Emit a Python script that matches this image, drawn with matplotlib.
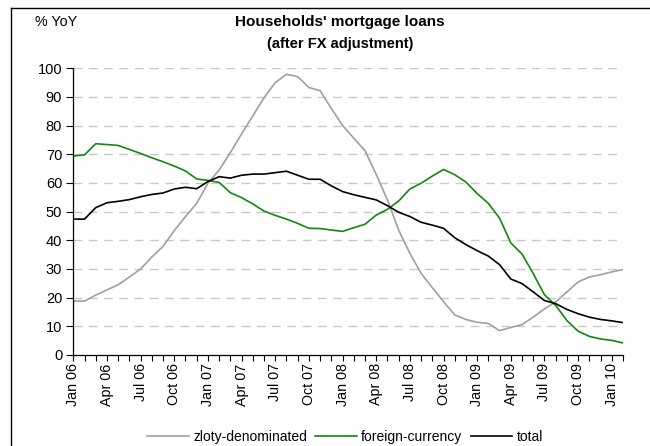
import matplotlib
matplotlib.use("Agg")
import matplotlib.pyplot as plt
from matplotlib.lines import Line2D
import numpy as np

plt.rcParams['font.family'] = ['Liberation Sans', 'DejaVu Sans']

months = ["Jan 06","Feb 06","Mar 06","Apr 06","May 06","Jun 06","Jul 06","Aug 06","Sep 06","Oct 06","Nov 06","Dec 06",
          "Jan 07","Feb 07","Mar 07","Apr 07","May 07","Jun 07","Jul 07","Aug 07","Sep 07","Oct 07","Nov 07","Dec 07",
          "Jan 08","Feb 08","Mar 08","Apr 08","May 08","Jun 08","Jul 08","Aug 08","Sep 08","Oct 08","Nov 08","Dec 08",
          "Jan 09","Feb 09","Mar 09","Apr 09","May 09","Jun 09","Jul 09","Aug 09","Sep 09","Oct 09","Nov 09","Dec 09",
          "Jan 10","Feb 10"]

zloty = [18.8,18.8,20.9,22.7,24.5,27.2,30.0,34.2,37.9,43.4,48.3,52.9,
         59.9,64.5,70.6,77.1,83.4,89.7,95.0,97.9,97.1,93.3,92.2,86.0,
         80.1,75.6,71.3,63.0,54.1,43.6,35.5,28.5,23.5,18.6,14.0,12.4,
         11.4,11.0,8.5,9.6,10.6,13.2,16.1,18.5,22.0,25.5,27.2,28.0,
         29.0,29.8]

foreign = [69.4,69.8,73.7,73.4,73.1,71.7,70.3,68.8,67.4,65.9,64.2,61.4,
           60.9,60.2,56.6,54.9,52.7,50.2,48.7,47.4,45.9,44.2,44.1,43.6,
           43.1,44.4,45.6,48.8,50.8,53.7,57.9,59.9,62.4,64.7,62.9,60.3,
           56.3,52.9,47.7,39.1,35.2,28.4,21.0,17.3,12.0,8.3,6.5,5.6,
           5.1,4.2]

total = [47.4,47.4,51.4,53.1,53.6,54.2,55.2,56.0,56.5,57.9,58.5,58.0,
         60.5,62.2,61.7,62.7,63.1,63.1,63.6,64.1,62.7,61.3,61.3,59.0,
         57.0,55.9,55.0,54.1,52.1,49.8,48.3,46.3,45.3,44.2,40.9,38.5,
         36.4,34.5,31.5,26.5,24.9,22.0,19.0,17.9,15.9,14.4,13.2,12.4,
         11.9,11.3]

series_names = ["zloty-denominated", "foreign-currency", "total"]
series_colors = ["#a0a0a0", "#118811", "#000000"]

fig = plt.figure(figsize=(6.5, 4.46), dpi=100)
ax = fig.add_axes([73.3/650, 1-355/446, (623-73.3)/650, (355-68.3)/446])

x = np.arange(len(months))
for vals, name, col in zip([zloty, foreign, total], series_names, series_colors):
    ax.plot(x, vals, color=col, lw=1.2, label=name, solid_joinstyle='round')

ax.set_xlim(0, len(months)-1)
ax.set_ylim(0, 100)
ax.set_yticks(np.arange(0, 101, 10))
for yv in range(10, 101, 10):
    ax.axhline(yv, color="#c8c8c8", lw=1.0, dashes=(6.3, 4.7), zorder=0)

ax.set_xticks(x)
ax.set_xticklabels([m if i % 3 == 0 else "" for i, m in enumerate(months)], rotation=90, fontsize=10.3)
ax.tick_params(axis='x', direction='out', length=4, width=0.8, pad=2)
ax.tick_params(axis='y', direction='out', length=5, width=0.8, labelsize=10.5, pad=3)
for s in ['top', 'right']:
    ax.spines[s].set_visible(False)
for s in ['left', 'bottom']:
    ax.spines[s].set_linewidth(0.9)

fig.text(35/650, 1-22/446, "% YoY", fontsize=10.3, va='center', ha='left')
fig.text(340/650, 1-22/446, "Households' mortgage loans", fontsize=11,
         fontweight='bold', ha='center', va='center')
fig.text(340/650, 1-44/446, "(after FX adjustment)", fontsize=10.5,
         fontweight='bold', ha='center', va='center')

handles = [Line2D([0], [0], color=c, lw=1.2) for c in series_colors]
fig.legend(handles, series_names, loc='center', bbox_to_anchor=(345/650, 1-437/446), ncol=3,
           frameon=False, fontsize=10, handlelength=3.0, handletextpad=0.3, columnspacing=0.6)

# outer frame (left and top edges visible)
fig.add_artist(Line2D([11/650, 11/650], [0, 1-8/446], color='black', lw=1.0, transform=fig.transFigure))
fig.add_artist(Line2D([11/650, 1], [1-8/446, 1-8/446], color='black', lw=1.0, transform=fig.transFigure))

fig.savefig("out.png", dpi=100)
